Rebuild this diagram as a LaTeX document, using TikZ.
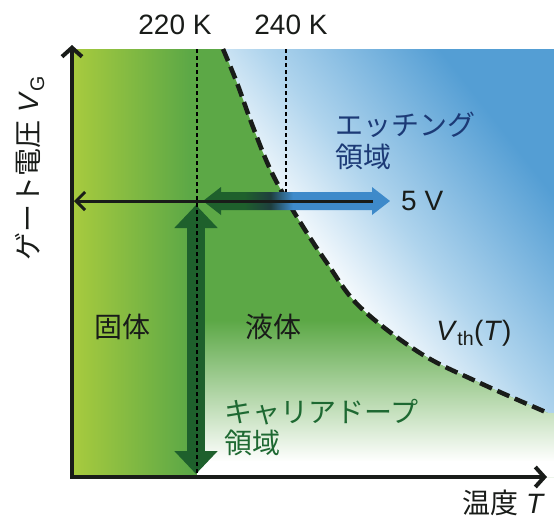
\documentclass[tikz,border=0pt]{standalone}
\usepackage{fontspec}
\setmainfont{Liberation Sans}
\newfontfamily\jp{Noto Sans CJK JP}
\usetikzlibrary{arrows.meta}
\definecolor{gL}{RGB}{168,203,62}
\definecolor{gR}{RGB}{92,168,70}
\definecolor{blueB}{RGB}{84,158,212}
\definecolor{blueL}{RGB}{175,212,237}
\definecolor{navy}{RGB}{28,58,118}
\definecolor{txgreen}{RGB}{30,105,50}
\definecolor{dkgreen}{RGB}{30,96,44}
\definecolor{arrblue}{RGB}{62,138,202}
\definecolor{arrdark}{RGB}{30,62,62}
\definecolor{ink}{RGB}{25,28,25}
\pgfdeclarehorizontalshading{bluesh}{100bp}{color(0bp)=(white); color(38bp)=(white); color(52bp)=(blueL); color(72bp)=(blueB); color(100bp)=(blueB)}
\pgfdeclarehorizontalshading{arrsh}{100bp}{color(0bp)=(dkgreen); color(36bp)=(dkgreen); color(43bp)=(arrdark); color(49bp)=(arrblue); color(100bp)=(arrblue)}
\begin{document}
\begin{tikzpicture}[x=1pt,y=-1pt,
  lbl/.style={inner sep=0pt, font=\fontsize{28}{30}\selectfont},
  jlbl/.style={inner sep=0pt, font=\fontsize{28}{30}\selectfont\jp},
  axisline/.style={line width=4pt, ink, line join=miter},
  vdash/.style={black, line width=1.4pt, dash pattern=on 4pt off 3pt},
  thcurve/.style={ink, line width=4.5pt, dash pattern=on 13pt off 6pt}]
\useasboundingbox (0,0) rectangle (554,520);
% etching (blue) region
\shade[shading=bluesh, shading angle=38] (554,49) -- (223,49) -- plot[smooth, tension=0.6] coordinates {(223,49) (237,83) (253,127) (272,173) (297,217) (327,263) (360,307) (420,353) (480,383) (548,413)} -- (554,413) -- cycle;
% green region
\fill[gR] (72,49) -- plot[smooth, tension=0.6] coordinates {(223,49) (237,83) (253,127) (272,173) (297,217) (327,263) (360,307) (420,353) (480,383) (548,413)} -- (554,413) -- (554,477) -- (72,477) -- cycle;
\shade[left color=gL, right color=gR] (72,49) rectangle (190,477);
\begin{scope}
\clip (72,49) -- plot[smooth, tension=0.6] coordinates {(223,49) (237,83) (253,127) (272,173) (297,217) (327,263) (360,307) (420,353) (480,383) (548,413)} -- (554,413) -- (554,477) -- (72,477) -- cycle;
\shade[top color=gR, bottom color=white] (197,320) rectangle (554,462);
\fill[white] (197,461) rectangle (554,478);
\end{scope}
% threshold curve
\draw[thcurve] plot[smooth, tension=0.6] coordinates {(223,49) (237,83) (253,127) (272,173) (297,217) (327,263) (360,307) (420,353) (480,383) (548,413)};
% coordinates
\coordinate (o) at (72,477);
\coordinate (ytop) at (72,45);
\coordinate (xend) at (547,477);
\coordinate (t220) at (197,49);
\coordinate (b220) at (197,475);
\coordinate (t240) at (286,49);
\coordinate (b240) at (286,192);
\coordinate (va) at (196,205);
\coordinate (vb) at (196,474);
\coordinate (hR) at (373,201);
\coordinate (hL) at (74,201);
% vertical dashed line 240 K
\draw[vdash] (t240) -- (b240);
% thick double arrow (shaded)
\shade[shading=arrsh] (203,201) -- (221,187) -- (221,192) -- (372,192) -- (372,187) -- (390,201) -- (372,215) -- (372,210) -- (221,210) -- (221,215) -- cycle;
% vertical carrier-doping arrow
\draw[dkgreen, line width=18pt, {Triangle[length=23pt,width=42pt]}-{Triangle[length=23pt,width=42pt]}] (va) -- (vb);
% vertical dashed line 220 K
\draw[vdash] (t220) -- (b220);
% thin horizontal arrow
\draw[ink, line width=3pt, -{Straight Barb[length=9pt,width=18pt]}] (hR) -- (hL);
% axes
\draw[axisline, {Straight Barb[length=9pt,width=20pt]}-{Straight Barb[length=9pt,width=20pt]}] (ytop) -- (o) -- (xend);
% labels
\node[lbl, text=ink] (l220) at (175,25) {220 K};
\node[lbl, text=ink] (l240) at (291,25) {240 K};
\node[jlbl, text=navy, anchor=west] (etch1) at (335,125) {エッチング};
\node[jlbl, text=navy, anchor=west] (etch2) at (335,157) {領域};
\node[lbl, text=ink, anchor=west] (five) at (401,201) {5 V};
\node[jlbl, text=ink] (solid) at (122,327) {固体};
\node[jlbl, text=ink] (liquid) at (273,327) {液体};
\node[lbl, text=ink] (vth) at (474,333) {\textit{V}\textsubscript{th}(\textit{T})};
\node[jlbl, text=txgreen, anchor=west] (dope1) at (224,412) {キャリアドープ};
\node[jlbl, text=txgreen, anchor=west] (dope2) at (224,443) {領域};
\node[lbl, text=ink, anchor=east] (xlab) at (545,503) {{\jp 温度} \textit{T}};
\node[lbl, text=ink, rotate=90] (ylab) at (30,168) {{\jp ゲート電圧} \textit{V}\textsubscript{G}};
\end{tikzpicture}
\end{document}
